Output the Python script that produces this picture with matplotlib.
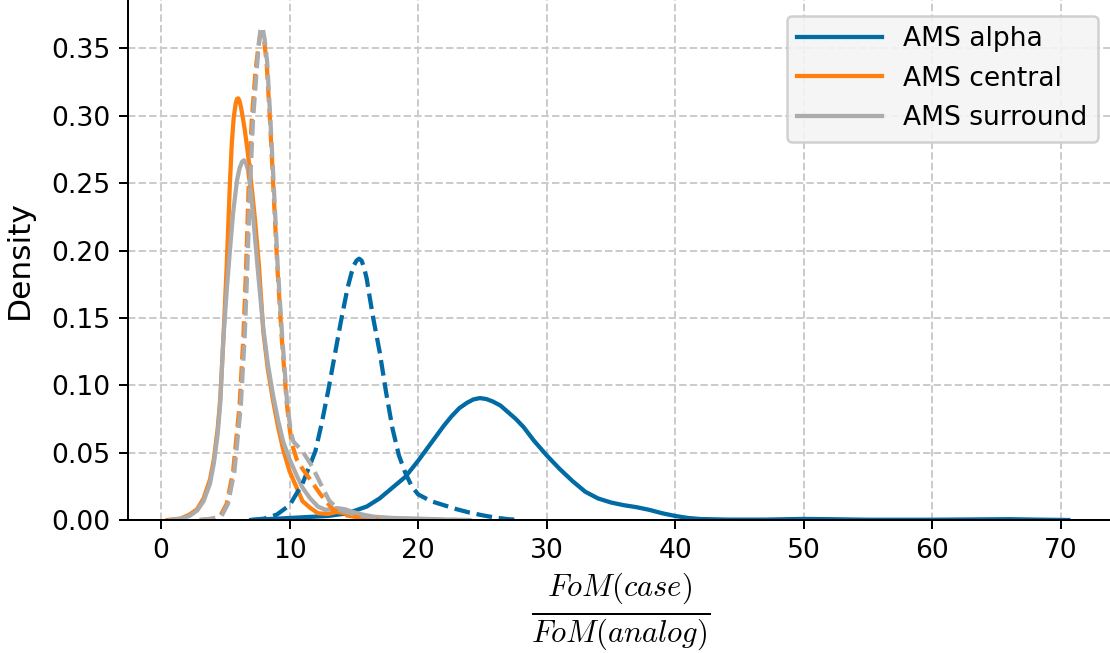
import numpy as np
import matplotlib
matplotlib.use("Agg")
import matplotlib.pyplot as plt

plt.rcParams['mathtext.fontset'] = 'cm'
plt.rcParams['font.size'] = 10.6

# KDE curves (x = FoM ratio, y = density)
# AMS alpha
alpha_x = [7.0, 9.0, 11.0, 13.0, 14.5, 16.0, 17.0, 18.0, 19.0, 20.0, 21.0, 22.0, 22.6, 23.2,
           23.8, 24.3, 24.8, 25.3, 25.8, 26.4, 27.0, 27.6, 28.2, 29.0, 30.0, 31.0, 32.0,
           33.0, 34.0, 35.0, 36.0, 37.0, 38.0, 39.0, 40.0, 41.0, 42.0, 44.0, 47.0, 50.0,
           52.0, 55.0, 60.0, 63.0, 66.0, 68.0, 70.6]
alpha_y = [0.0, 0.001, 0.002, 0.003, 0.005, 0.010, 0.016, 0.024, 0.032, 0.044, 0.057, 0.070,
           0.077, 0.083, 0.087, 0.0895, 0.0905, 0.0898, 0.088, 0.085, 0.080, 0.075, 0.069,
           0.059, 0.048, 0.038, 0.029, 0.021, 0.016, 0.013, 0.011, 0.0095, 0.0075, 0.005,
           0.003, 0.0015, 0.0007, 0.0003, 0.0003, 0.0008, 0.0006, 0.0002, 0.0002, 0.0004,
           0.0006, 0.0003, 0.0]
alpha_dx = [7.0, 8.0, 9.0, 10.0, 11.0, 12.0, 12.5, 13.0, 13.5, 14.0, 14.5, 14.8, 15.0, 15.2,
            15.4, 15.6, 15.8, 16.0, 16.2, 16.5, 17.0, 17.5, 18.0, 18.5, 19.0, 19.5, 20.0,
            21.0, 22.0, 23.0, 24.0, 25.0, 26.0, 27.0, 28.0]
alpha_dy = [0.0, 0.001, 0.004, 0.011, 0.027, 0.051, 0.072, 0.096, 0.122, 0.148, 0.172, 0.183,
            0.189, 0.1925, 0.194, 0.1925, 0.187, 0.179, 0.167, 0.150, 0.125, 0.095, 0.068,
            0.048, 0.035, 0.025, 0.019, 0.014, 0.011, 0.008, 0.0055, 0.0035, 0.0018, 0.0006,
            0.0]

# AMS central
central_x = [0.5, 1.5, 2.2, 2.8, 3.3, 3.8, 4.1, 4.4, 4.6, 4.85, 5.1, 5.35, 5.5, 5.65, 5.8,
             5.9, 6.0, 6.1, 6.2, 6.35, 6.5, 6.7, 6.9, 7.1, 7.3, 7.6, 7.95, 8.3, 8.7, 9.1,
             9.5, 10.0, 10.5, 11.0, 11.6, 12.2, 13.0, 13.7, 14.5, 15.5, 17.0, 19.0]
central_y = [0.0, 0.001, 0.004, 0.008, 0.016, 0.030, 0.045, 0.068, 0.090, 0.136, 0.188, 0.250,
             0.280, 0.299, 0.309, 0.3125, 0.313, 0.311, 0.307, 0.299, 0.290, 0.276, 0.260,
             0.242, 0.223, 0.190, 0.140, 0.112, 0.089, 0.069, 0.052, 0.036, 0.025, 0.014,
             0.009, 0.005, 0.0045, 0.006, 0.0045, 0.0025, 0.0008, 0.0]
central_dx = [3.0, 4.0, 4.6, 5.1, 5.6, 6.1, 6.4, 6.6, 6.8, 7.05, 7.35, 7.55, 7.65, 7.75, 7.85,
              7.95, 8.05, 8.21, 8.47, 8.73, 9.04, 9.38, 9.77, 10.0, 10.16, 10.55, 11.0, 11.6,
              12.4, 13.4, 14.4, 15.5, 17.0]
central_dy = [0.0, 0.001, 0.003, 0.012, 0.036, 0.085, 0.136, 0.185, 0.245, 0.297, 0.334, 0.350,
              0.357, 0.361, 0.362, 0.359, 0.353, 0.339, 0.297, 0.247, 0.188, 0.136, 0.087,
              0.068, 0.057, 0.045, 0.038, 0.030, 0.019, 0.0074, 0.0035, 0.0015, 0.0]

# AMS surround
surround_x = [0.7, 1.5, 2.2, 2.8, 3.3, 3.8, 4.1, 4.4, 4.6, 4.85, 5.1, 5.35, 5.6, 5.9, 6.1,
              6.3, 6.45, 6.6, 6.75, 6.9, 7.05, 7.3, 7.5, 7.95, 8.3, 8.7, 9.1, 9.5, 10.0,
              10.55, 11.0, 11.6, 12.2, 12.8, 13.3, 13.7, 14.3, 14.9, 15.7, 16.5, 18.0, 20.0,
              22.0, 24.0]
surround_y = [0.0, 0.001, 0.003, 0.007, 0.014, 0.027, 0.042, 0.064, 0.087, 0.136, 0.170, 0.200,
              0.228, 0.252, 0.261, 0.266, 0.267, 0.265, 0.260, 0.250, 0.237, 0.210, 0.188,
              0.142, 0.116, 0.093, 0.074, 0.058, 0.045, 0.033, 0.024, 0.016, 0.010, 0.0075,
              0.0082, 0.0088, 0.008, 0.006, 0.004, 0.0025, 0.0015, 0.001, 0.0004, 0.0]
surround_dx = [3.0, 4.0, 4.7, 5.2, 5.7, 6.2, 6.5, 6.7, 6.9, 7.15, 7.45, 7.62, 7.72, 7.82,
               7.92, 8.05, 8.25, 8.5, 8.77, 9.07, 9.42, 9.8, 10.1, 10.3, 10.55, 11.0, 11.6,
               12.1, 12.4, 13.1, 13.9, 15.2, 17.0, 20.0, 23.0]
surround_dy = [0.0, 0.001, 0.003, 0.012, 0.036, 0.085, 0.136, 0.185, 0.245, 0.297, 0.336,
               0.355, 0.363, 0.366, 0.364, 0.357, 0.340, 0.297, 0.247, 0.188, 0.136, 0.087,
               0.065, 0.058, 0.0556, 0.051, 0.042, 0.033, 0.027, 0.014, 0.0074, 0.0037,
               0.0015, 0.0005, 0.0]

labels = ['AMS alpha', 'AMS central', 'AMS surround']
colors = ['#006BA4', '#FF800E', '#ABABAB']

fig = plt.figure(figsize=(1110/180, 653/180), dpi=180)
ax = fig.add_axes([128/1110, 133/653, 986/1110, 520/653])

solid = [(alpha_x, alpha_y), (central_x, central_y), (surround_x, surround_y)]
dashed = [(alpha_dx, alpha_dy), (central_dx, central_dy), (surround_dx, surround_dy)]

for (x, y), c, lab in zip(solid, colors, labels):
    ax.plot(x, y, color=c, lw=1.7, label=lab)
for (x, y), c in zip(dashed, colors):
    ax.plot(x, y, color=c, lw=1.7, ls='--')

ax.set_xlim(-2.58, 74.15)
ax.set_ylim(0, 0.386)
ax.set_xticks(np.arange(0, 80, 10))
ax.set_yticks(np.arange(0, 0.36, 0.05))
ax.grid(True, ls='--', color='#cccccc', lw=0.8)
ax.set_axisbelow(True)
ax.spines['top'].set_visible(False)
ax.spines['right'].set_visible(False)

ax.set_ylabel('Density', fontsize=12.5, labelpad=7)
ax.set_xlabel(r'$\frac{FoM(case)}{FoM(analog)}$', fontsize=17.5, labelpad=3)

leg = ax.legend(loc='upper right', facecolor='#f4f4f4', edgecolor='#cccccc',
                framealpha=0.9, handlelength=3.2, borderaxespad=0.6)

fig.savefig('out.png', dpi=180)
